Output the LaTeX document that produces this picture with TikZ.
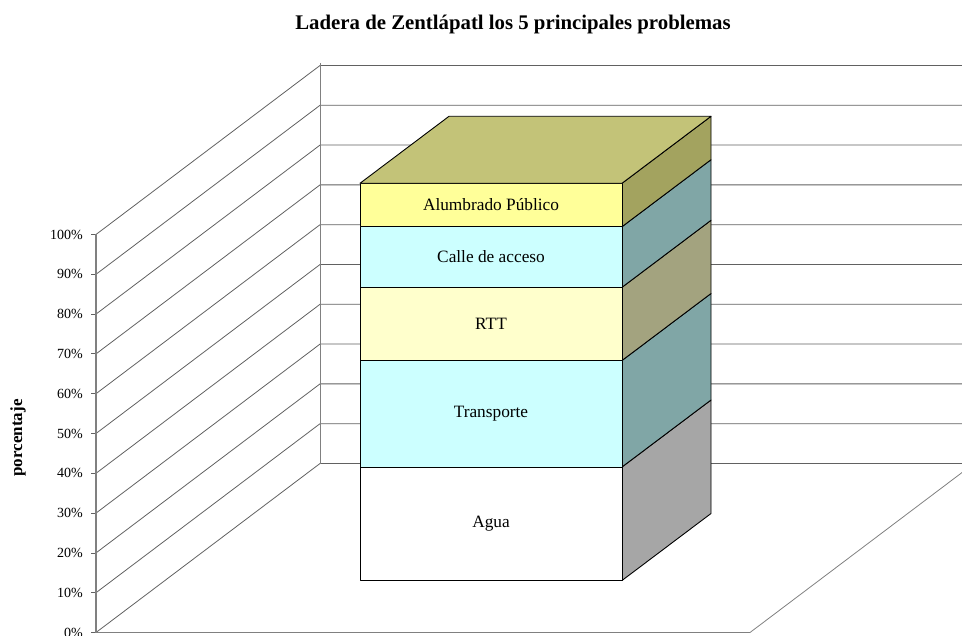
\documentclass[tikz,border=0pt]{standalone}
\usepackage{fontspec}
\setmainfont{Liberation Serif}
\definecolor{topc}{HTML}{C3C378}
\definecolor{sideAl}{HTML}{A3A35F}
\definecolor{sideTeal}{HTML}{80A6A6}
\definecolor{sideRTT}{HTML}{A3A37F}
\definecolor{sideAgua}{HTML}{A6A6A6}
\definecolor{frAl}{HTML}{FFFF99}
\definecolor{frCyan}{HTML}{CCFFFF}
\definecolor{frRTT}{HTML}{FFFFCC}
\begin{document}
\begin{tikzpicture}[x=1pt,y=-1pt,
  gridline/.style={draw=black!62, line width=0.8pt},
  axisline/.style={draw=black!50, line width=1.4pt},
  wall/.style={draw=black!50, line width=0.8pt},
  seg/.style={draw=black, line width=0.9pt, line join=round},
  ticklab/.style={anchor=east, inner sep=0pt, font=\fontsize{14}{16}\selectfont},
  barlab/.style={font=\fontsize{17.3}{20}\selectfont}]
\useasboundingbox (0,0) rectangle (962,636);
\begin{scope}
\clip (0,0) rectangle (962,636);
% grid: left wall diagonals and back wall horizontals
\foreach \k in {0,...,10} {
  \pgfmathsetmacro{\yf}{632.5-39.8*\k}
  \draw[gridline] (96,\yf) -- (320,\yf-169) -- (974,\yf-169);
  \draw[gridline] (91,\yf) -- (96,\yf);
}
% back wall vertical
\draw[wall] (320,63.5) -- (320,463.5);
% floor
\draw[wall] (750,632.5) -- (974,463.5);
\draw[axisline] (96,632.5) -- (750,632.5);
\draw[axisline] (96,234.5) -- (96,632.5);
% bar
\foreach \b/\t/\fc/\sc/\lab/\nm in {580.5/467/white/sideAgua/Agua/agua,
  467/360.5/frCyan/sideTeal/Transporte/transp,
  360.5/287.3/frRTT/sideRTT/RTT/rtt,
  287.3/226.7/frCyan/sideTeal/Calle de acceso/calle,
  226.7/183.3/frAl/sideAl/Alumbrado Público/alum} {
  \filldraw[fill=\sc, seg] (622,\b) -- (711,\b-67) -- (711,\t-67) -- (622,\t) -- cycle;
  \filldraw[fill=\fc, seg] (360,\b) rectangle (622,\t);
  \node[barlab] (\nm) at (491,{(\b+\t)/2}) {\lab};
}
\filldraw[fill=topc, seg] (360,183.3) -- (449,116.3) -- (711,116.3) -- (622,183.3) -- cycle;
\end{scope}
% tick labels
\foreach \k in {0,...,10} {
  \pgfmathsetmacro{\yf}{632.5-39.8*\k}
  \pgfmathtruncatemacro{\pc}{10*\k}
  \node[ticklab] (t\k) at (83,\yf) {\pc\%};
}
\node[font=\bfseries\fontsize{20.8}{24}\selectfont] (title) at (513,24) {Ladera de Zentlápatl los 5 principales problemas};
\node[rotate=90, font=\bfseries\fontsize{17}{20}\selectfont] (ylab) at (18,438) {porcentaje};
\end{tikzpicture}
\end{document}
